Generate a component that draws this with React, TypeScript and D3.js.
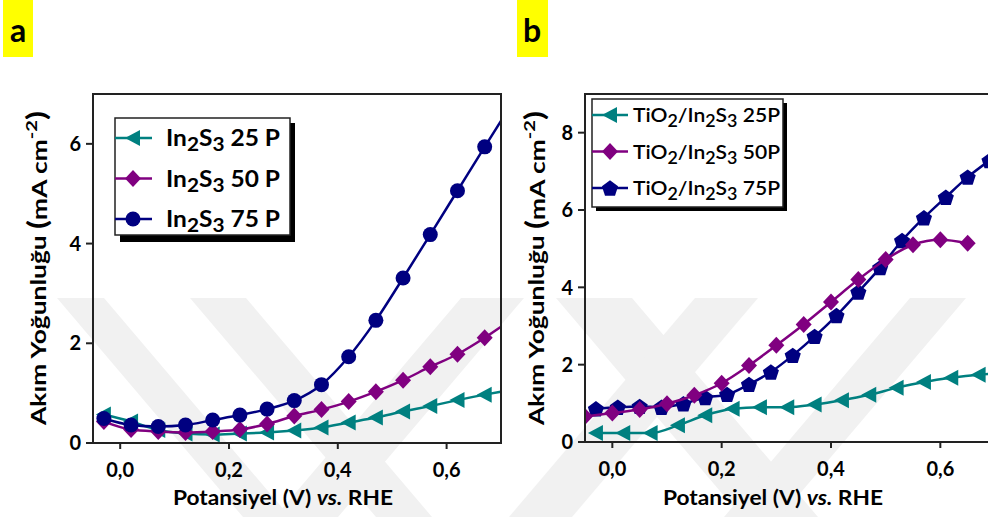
import React from 'react';
import * as d3 from 'd3';

// panel a: In2S3 films
const xA = [-0.03, 0.02, 0.07, 0.12, 0.17, 0.22, 0.27, 0.32, 0.37, 0.42, 0.47, 0.52, 0.57, 0.62, 0.67, 0.7];
const a25 = [0.57, 0.43, 0.26, 0.19, 0.17, 0.19, 0.21, 0.25, 0.31, 0.41, 0.51, 0.63, 0.74, 0.86, 0.97, 1.03];
const a50 = [0.43, 0.27, 0.23, 0.21, 0.23, 0.27, 0.38, 0.54, 0.67, 0.83, 1.03, 1.26, 1.53, 1.78, 2.11, 2.33];
const a75 = [0.49, 0.36, 0.33, 0.36, 0.46, 0.56, 0.68, 0.85, 1.17, 1.73, 2.46, 3.31, 4.18, 5.06, 5.94, 6.46];

// panel b: TiO2/In2S3 films
const xB25 = [-0.03, 0.02, 0.07, 0.12, 0.17, 0.22, 0.27, 0.32, 0.37, 0.42, 0.47, 0.52, 0.57, 0.62, 0.67, 0.7];
const b25 = [0.23, 0.23, 0.23, 0.43, 0.69, 0.86, 0.9, 0.9, 0.97, 1.08, 1.22, 1.4, 1.55, 1.66, 1.74, 1.77];
const xB50 = [-0.05, 0.0, 0.05, 0.1, 0.15, 0.2, 0.25, 0.3, 0.35, 0.4, 0.45, 0.5, 0.55, 0.6, 0.65];
const b50 = [0.66, 0.75, 0.84, 0.99, 1.21, 1.52, 1.98, 2.5, 3.04, 3.62, 4.2, 4.72, 5.1, 5.23, 5.14];
const xB75 = [-0.03, 0.01, 0.05, 0.09, 0.13, 0.17, 0.21, 0.25, 0.29, 0.33, 0.37, 0.41, 0.45, 0.49, 0.53, 0.57, 0.61, 0.65, 0.69];
const b75 = [0.86, 0.9, 0.92, 0.9, 0.99, 1.15, 1.23, 1.49, 1.81, 2.24, 2.73, 3.27, 3.88, 4.51, 5.21, 5.8, 6.33, 6.85, 7.28];

const xTicks = [0, 0.2, 0.4, 0.6];
const yTicksA = [0, 2, 4, 6];
const yTicksB = [0, 2, 4, 6, 8];

const TEAL = '#008080';
const PURPLE = '#800080';
const NAVY = '#000080';
const FONT = 'Lato, "DejaVu Sans", sans-serif';

// faint background watermark bands: [top x0, top x1, direction]
const bands: [number, number, number][] = [
  [57, 104, 1], [190, 246, 1], [461, 524, -1],
  [556, 632, 1], [695, 758, -1], [910, 966, -1],
];

function Marker({ type, color }: { type: string; color: string }) {
  if (type === 'circle') return <circle r={7.5} fill={color} />;
  if (type === 'diamond') return <path d="M0,-8.5L8,0L0,8.5L-8,0Z" fill={color} />;
  if (type === 'tri') return <path d="M-8,0L7,-8L7,8Z" fill={color} />;
  const pts = d3.range(5).map(i => {
    const ang = -Math.PI / 2 + (i * 2 * Math.PI) / 5;
    return [Math.cos(ang) * 8.5, Math.sin(ang) * 8.5 + 0.8];
  });
  return <path d={'M' + pts.map(p => p.join(',')).join('L') + 'Z'} fill={color} />;
}

function Series({ xs, ys, x, y, color, type, noMark }: any) {
  const line = d3.line<number>().x((d, i) => x(xs[i])).y(d => y(d)).curve(d3.curveMonotoneX);
  return (
    <g>
      <path d={line(ys) || ''} fill="none" stroke={color} strokeWidth={2.5} />
      {ys.map((v: number, i: number) =>
        noMark && noMark.includes(i) ? null : (
          <g key={i} transform={`translate(${x(xs[i])},${y(v)})`}>
            <Marker type={type} color={color} />
          </g>
        )
      )}
    </g>
  );
}

function Axes({ x, y, yTicks, left, right, top, bottom, titleCx }: any) {
  return (
    <g fontFamily={FONT} fontWeight="bold" fill="#000">
      <rect x={left} y={top} width={right - left} height={bottom - top} fill="none" stroke="#222" strokeWidth={2} />
      {xTicks.map(t => (
        <g key={t}>
          <line x1={x(t)} x2={x(t)} y1={bottom} y2={bottom + 6} stroke="#222" strokeWidth={2} />
          <text x={x(t)} y={bottom + 34} textAnchor="middle" fontSize={20}>
            {d3.format('.1f')(t).replace('.', ',')}
          </text>
        </g>
      ))}
      {yTicks.map((t: number) => (
        <g key={t}>
          <line x1={left - 7} x2={left} y1={y(t)} y2={y(t)} stroke="#222" strokeWidth={2} />
          <text x={left - 12} y={y(t)} dy="0.36em" textAnchor="end" fontSize={20}>{t}</text>
        </g>
      ))}
      <text x={titleCx - 110} y={505} fontSize={20} textLength={220} lengthAdjust="spacingAndGlyphs">
        Potansiyel (V) <tspan fontStyle="italic">vs.</tspan> RHE
      </text>
    </g>
  );
}

function YTitle({ bx }: { bx: number }) {
  return (
    <text transform={`translate(${bx},425) rotate(-90)`} fontFamily={FONT} fontWeight="bold" fontSize={21}
      textLength={314} lengthAdjust="spacingAndGlyphs">
      Akım Yoğunluğu <tspan fontSize={26} dy={1}>(</tspan>mA cm<tspan fontSize={16} dy={-10}>-2</tspan>
      <tspan fontSize={26} dy={9}>)</tspan>
    </text>
  );
}

function Formula({ parts, size }: { parts: [string, boolean][]; size: number }) {
  // parts: [text, isSubscript]
  let prevSub = false;
  return (
    <>
      {parts.map(([t, sub], i) => {
        const dy = sub && !prevSub ? 5 : !sub && prevSub ? -5 : 0;
        prevSub = sub;
        return (
          <tspan key={i} dy={dy} fontSize={sub ? size * 0.85 : size}>{t}</tspan>
        );
      })}
    </>
  );
}

export default function App() {
  // panel a geometry
  const LA = 93, RA = 501, TA = 94, BA = 443;
  const xa = d3.scaleLinear().domain([-0.05, 0.7]).range([LA, RA]);
  const ya = d3.scaleLinear().domain([0, 7]).range([BA, TA]);
  // panel b geometry
  const LB = 585, RB = 995, TB = 94, BB = 442;
  const xb = d3.scaleLinear().domain([-0.05, 0.7]).range([LB, RB]);
  const yb = d3.scaleLinear().domain([0, 9]).range([BB, TB]);

  const legA = [
    { lab: '25 P', color: TEAL, type: 'tri' },
    { lab: '50 P', color: PURPLE, type: 'diamond' },
    { lab: '75 P', color: NAVY, type: 'circle' },
  ];
  const legB = [
    { lab: '25P', color: TEAL, type: 'tri' },
    { lab: '50P', color: PURPLE, type: 'diamond' },
    { lab: '75P', color: NAVY, type: 'pent' },
  ];

  return (
    <svg width={988} height={517} style={{ position: 'fixed', left: 0, top: 0, background: '#fff' }}>
      <defs>
        <clipPath id="clipA"><rect x={LA} y={TA} width={RA - LA} height={BA - TA} /></clipPath>
        <clipPath id="clipB"><rect x={LB} y={TB} width={RB - LB} height={BB - TB} /></clipPath>
      </defs>

      {/* watermark */}
      {bands.map(([x0, x1, dir], i) => (
        <path key={i} d={`M${x0},298L${x1},298L${x1 + dir * 186},517L${x0 + dir * 186},517Z`} fill="#f1f1f1" />
      ))}

      {/* panel labels */}
      <rect x={3} y={0} width={30} height={57} fill="#ffff00" />
      <text x={18} y={42} textAnchor="middle" fontFamily={FONT} fontWeight="bold" fontSize={32}>a</text>
      <rect x={517} y={0} width={31} height={57} fill="#ffff00" />
      <text x={532} y={42} textAnchor="middle" fontFamily={FONT} fontWeight="bold" fontSize={32}>b</text>

      {/* panel a */}
      <g clipPath="url(#clipA)">
        <Series xs={xA} ys={a25} x={xa} y={ya} color={TEAL} type="tri" noMark={[15]} />
        <Series xs={xA} ys={a50} x={xa} y={ya} color={PURPLE} type="diamond" noMark={[15]} />
        <Series xs={xA} ys={a75} x={xa} y={ya} color={NAVY} type="circle" noMark={[15]} />
      </g>
      <Axes x={xa} y={ya} yTicks={yTicksA} left={LA} right={RA} top={TA} bottom={BA} titleCx={283} />
      <YTitle bx={46} />
      <g fontFamily={FONT} fontWeight="bold">
        <rect x={120} y={123} width={175} height={119} fill="#000" />
        <rect x={115} y={118} width={175} height={117} fill="#fff" stroke="#222" strokeWidth={1.5} />
        {legA.map((d, i) => {
          const cy = 138 + i * 40.5;
          return (
            <g key={i}>
              <line x1={115} x2={152} y1={cy} y2={cy} stroke={d.color} strokeWidth={2.5} />
              <g transform={`translate(133,${cy})`}><Marker type={d.type} color={d.color} /></g>
              <text x={166} y={cy + 8} fontSize={22} textLength={114} lengthAdjust="spacingAndGlyphs">
                <Formula parts={[['In', false], ['2', true], ['S', false], ['3', true], [' ' + d.lab, false]]} size={22} />
              </text>
            </g>
          );
        })}
      </g>

      {/* panel b */}
      <g clipPath="url(#clipB)">
        <Series xs={xB25} ys={b25} x={xb} y={yb} color={TEAL} type="tri" noMark={[15]} />
        <Series xs={xB75} ys={b75} x={xb} y={yb} color={NAVY} type="pent" />
        <Series xs={xB50} ys={b50} x={xb} y={yb} color={PURPLE} type="diamond" />
      </g>
      <Axes x={xb} y={yb} yTicks={yTicksB} left={LB} right={RB} top={TB} bottom={BB} titleCx={773} />
      <YTitle bx={544} />
      <g fontFamily={FONT} fontWeight={600}>
        <rect x={596} y={103} width={191} height={108} fill="#000" />
        <rect x={592} y={99} width={191} height={108} fill="#fff" stroke="#222" strokeWidth={1.5} />
        {legB.map((d, i) => {
          const cy = 115 + i * 36.5;
          return (
            <g key={i}>
              <line x1={592} x2={628} y1={cy} y2={cy} stroke={d.color} strokeWidth={2.5} />
              <g transform={`translate(610,${cy})`}><Marker type={d.type} color={d.color} /></g>
              <text x={633} y={cy + 7} fontSize={20} textLength={147} lengthAdjust="spacingAndGlyphs">
                <Formula parts={[['TiO', false], ['2', true], ['/In', false], ['2', true], ['S', false], ['3', true], [' ' + d.lab, false]]} size={20} />
              </text>
            </g>
          );
        })}
      </g>
    </svg>
  );
}
